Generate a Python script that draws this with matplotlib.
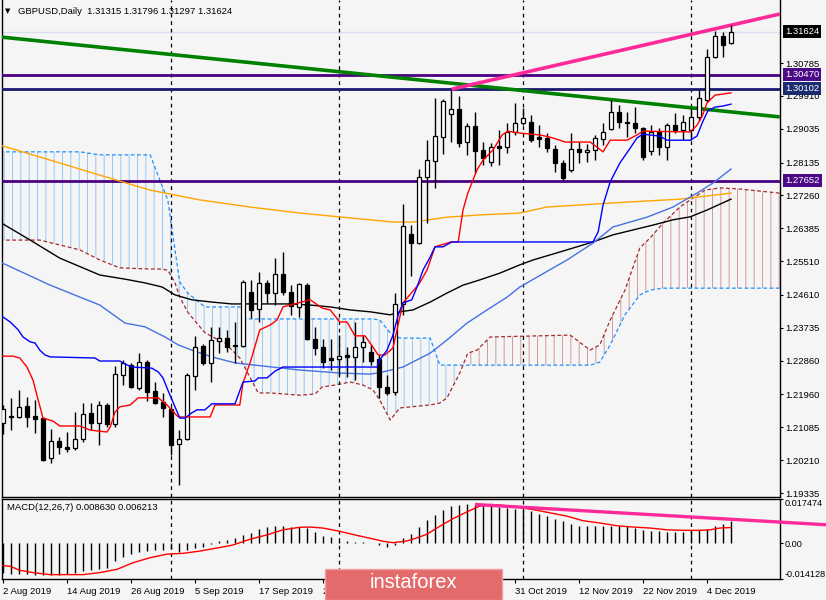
import numpy as np
import matplotlib.pyplot as plt
from matplotlib.patches import Rectangle
from matplotlib.transforms import blended_transform_factory

plt.rcParams['font.family'] = ['Liberation Sans', 'DejaVu Sans']
plt.rcParams['hatch.linewidth'] = 0.7

# daily candles, 2 Aug 2019 .. 9 Dec 2019
opens = [1.2120, 1.2138, 1.2136, 1.2165, 1.2139, 1.2133, 1.2027, 1.2072, 1.2056, 1.2053,
         1.2077, 1.2147, 1.2120, 1.2168, 1.2117, 1.2248, 1.2274, 1.2213, 1.2282, 1.2205,
         1.2176, 1.2157, 1.2064, 1.2077, 1.2245, 1.2325, 1.2280, 1.2338, 1.2346, 1.2328,
         1.2325, 1.2469, 1.2424, 1.2493, 1.2466, 1.2517, 1.2469, 1.2429, 1.2487, 1.2344,
         1.2322, 1.2293, 1.2290, 1.2301, 1.2296, 1.2322, 1.2309, 1.2290, 1.2216, 1.2202,
         1.2437, 1.2623, 1.2599, 1.2775, 1.2818, 1.2881, 1.2943, 1.2956, 1.2868, 1.2911,
         1.2847, 1.2815, 1.2858, 1.2855, 1.2895, 1.2919, 1.2921, 1.2881, 1.2879, 1.2850,
         1.2812, 1.2794, 1.2850, 1.2842, 1.2847, 1.2876, 1.2903, 1.2948, 1.2921, 1.2919,
         1.2905, 1.2844, 1.2895, 1.2855, 1.2913, 1.2900, 1.2900, 1.2935, 1.2980, 1.3095,
         1.3150, 1.31315]
highs = [1.2168, 1.2187, 1.2208, 1.2189, 1.2181, 1.2136, 1.2104, 1.2083, 1.2096, 1.2149,
         1.2173, 1.2173, 1.2179, 1.2173, 1.2272, 1.2288, 1.2280, 1.2306, 1.2288, 1.2229,
         1.2200, 1.2163, 1.2101, 1.2253, 1.2352, 1.2330, 1.2376, 1.2376, 1.2368, 1.2389,
         1.2501, 1.2501, 1.2522, 1.2501, 1.2559, 1.2575, 1.2487, 1.2493, 1.2493, 1.2376,
         1.2344, 1.2344, 1.2354, 1.2322, 1.2389, 1.2354, 1.2328, 1.2301, 1.2248, 1.2466,
         1.2703, 1.2647, 1.2796, 1.2873, 1.2985, 1.2983, 1.3007, 1.2991, 1.2919, 1.2948,
         1.2868, 1.2866, 1.2900, 1.2919, 1.2972, 1.2959, 1.2940, 1.2913, 1.2892, 1.2860,
         1.2820, 1.2892, 1.2868, 1.2863, 1.2887, 1.2919, 1.2980, 1.2967, 1.2948, 1.2961,
         1.2908, 1.2913, 1.2905, 1.2919, 1.2945, 1.2940, 1.2959, 1.3007, 1.3116, 1.3164,
         1.3161, 1.31796]
lows = [1.2091, 1.2101, 1.2133, 1.2109, 1.2093, 1.2019, 1.2013, 1.2037, 1.2043, 1.2048,
        1.2069, 1.2101, 1.2061, 1.2109, 1.2109, 1.2221, 1.2213, 1.2208, 1.2179, 1.2170,
        1.2136, 1.2035, 1.1955, 1.2075, 1.2208, 1.2274, 1.2229, 1.2306, 1.2309, 1.2280,
        1.2322, 1.2400, 1.2389, 1.2440, 1.2434, 1.2461, 1.2408, 1.2402, 1.2341, 1.2301,
        1.2266, 1.2261, 1.2248, 1.2242, 1.2234, 1.2282, 1.2274, 1.2187, 1.2194, 1.2194,
        1.2408, 1.2511, 1.2597, 1.2652, 1.2746, 1.2836, 1.2868, 1.2855, 1.2834, 1.2786,
        1.2807, 1.2804, 1.2807, 1.2839, 1.2887, 1.2913, 1.2868, 1.2855, 1.2842, 1.2788,
        1.2767, 1.2788, 1.2812, 1.2815, 1.2820, 1.2860, 1.2900, 1.2905, 1.2881, 1.2892,
        1.2820, 1.2834, 1.2834, 1.2820, 1.2892, 1.2873, 1.2873, 1.2924, 1.2975, 1.3092,
        1.3095, 1.31297]
closes = [1.2157, 1.2135, 1.2163, 1.2136, 1.2131, 1.2021, 1.2072, 1.2056, 1.2051, 1.2077,
          1.2144, 1.2120, 1.2168, 1.2117, 1.2250, 1.2280, 1.2216, 1.2282, 1.2202, 1.2173,
          1.2160, 1.2061, 1.2077, 1.2248, 1.2322, 1.2280, 1.2341, 1.2346, 1.2322, 1.2325,
          1.2495, 1.2421, 1.2493, 1.2466, 1.2517, 1.2469, 1.2431, 1.2490, 1.2344, 1.2320,
          1.2282, 1.2288, 1.2298, 1.2296, 1.2322, 1.2336, 1.2285, 1.2216, 1.2200, 1.2437,
          1.2644, 1.2599, 1.2775, 1.2820, 1.2884, 1.2977, 1.2956, 1.2866, 1.2911, 1.2844,
          1.2826, 1.2855, 1.2852, 1.2895, 1.2919, 1.2932, 1.2873, 1.2876, 1.2852, 1.2812,
          1.2772, 1.2850, 1.2842, 1.2847, 1.2879, 1.2895, 1.2948, 1.2921, 1.2919, 1.2905,
          1.2828, 1.2895, 1.2855, 1.2913, 1.2900, 1.2921, 1.2935, 1.2985, 1.3095, 1.3150,
          1.3126, 1.31624]

date_pos = [0, 8, 16, 24, 32, 40, 48, 56, 64, 72, 80, 88]
date_labels = ['2 Aug 2019', '14 Aug 2019', '26 Aug 2019', '5 Sep 2019', '17 Sep 2019',
               '27 Sep 2019', '9 Oct 2019', '21 Oct 2019', '31 Oct 2019', '12 Nov 2019',
               '22 Nov 2019', '4 Dec 2019']
month_starts = [21, 42, 65, 86]

price_ticks = [1.30785, 1.29910, 1.29035, 1.28135, 1.27260, 1.26385, 1.25510, 1.24610,
               1.23735, 1.22860, 1.21960, 1.21085, 1.20210, 1.19335]
level_high = 1.30470
level_mid = 1.30102
level_low = 1.27652
last_price = 1.31624

# ichimoku tenkan / kijun
tenkan_x = [-0.4, 1.25, 2.1, 3, 3.75, 4.4, 5, 6.25, 7.1, 9.6, 10.9, 13, 13.4, 14, 14.6, 15.9,
            16.9, 19.4, 20.5, 21.9, 25.9, 26.5, 29.6, 30, 31, 32.1, 33.4, 34.25, 35, 38.4,
            39.9, 40.9, 42.1, 43, 44, 45.25, 46.25, 46.9, 47.75, 48.75, 49.25, 50, 52, 53,
            54, 56, 56.9, 57.5, 58.1, 59.25, 60, 61.25, 62.4, 63.1, 64.6, 67.1, 68.4, 69.6,
            70.25, 73.4, 74.4, 75, 75.9, 78, 79.25, 80, 85.9, 86.75, 87.4, 88, 89, 90, 91]
tenkan_y = [1.2298, 1.2298, 1.2293, 1.2269, 1.2234, 1.2181, 1.2133, 1.2125, 1.2112, 1.2112,
            1.2101, 1.2096, 1.2109, 1.2149, 1.2163, 1.2168, 1.2187, 1.2187, 1.2168, 1.2136,
            1.2136, 1.2168, 1.2168, 1.2226, 1.2288, 1.2368, 1.2381, 1.2394, 1.2429, 1.2448,
            1.2426, 1.2421, 1.2389, 1.2389, 1.2352, 1.2352, 1.2322, 1.2301, 1.2301, 1.2320,
            1.2368, 1.2440, 1.2490, 1.2527, 1.2589, 1.2602, 1.2602, 1.2687, 1.2732, 1.2794,
            1.2820, 1.2847, 1.2887, 1.2897, 1.2892, 1.2887, 1.2881, 1.2873, 1.2868, 1.2868,
            1.2852, 1.2842, 1.2873, 1.2873, 1.2887, 1.2897, 1.2895, 1.2913, 1.2937, 1.2972,
            1.2993, 1.2996, 1.2999]
kijun_x = [-0.4, 0.9, 1.9, 2.5, 3.4, 4, 4.6, 5.25, 5.9, 11.5, 12.1, 14.6, 15.25, 16.1, 18.6,
           19.4, 20, 20.6, 21.5, 22.1, 22.75, 23.6, 24.25, 25.25, 26.1, 29, 30, 31.5, 31.9,
           33, 34, 35, 46.75, 47.1, 48, 48.75, 49.4, 50, 51.1, 51.75, 52.5, 53.4, 54, 55,
           56.1, 73.75, 74.4, 75, 75.9, 77.1, 78.4, 79.25, 80, 82.1, 83, 85.9, 86.75, 87.4,
           88.1, 89, 90, 91]
kijun_y = [1.2408, 1.2389, 1.2368, 1.2349, 1.2336, 1.2333, 1.2314, 1.2301, 1.2296, 1.2293,
           1.2285, 1.2285, 1.2277, 1.2269, 1.2266, 1.2256, 1.2240, 1.2208, 1.2163, 1.2133,
           1.2133, 1.2147, 1.2155, 1.2155, 1.2171, 1.2171, 1.2229, 1.2232, 1.2240, 1.2240,
           1.2258, 1.2269, 1.2269, 1.2288, 1.2314, 1.2354, 1.2408, 1.2440, 1.2448, 1.2482,
           1.2527, 1.2562, 1.2589, 1.2589, 1.2602, 1.2602, 1.2629, 1.2700, 1.2762, 1.2812,
           1.2852, 1.2879, 1.2889, 1.2884, 1.2873, 1.2873, 1.2884, 1.2919, 1.2951, 1.2961,
           1.2964, 1.2969]

# ichimoku cloud (span A / span B, shifted forward)
cloud_x = [-0.4, 4.6, 9.6, 12.1, 14.6, 18.4, 19.6, 20.6, 21.5, 22.1, 23.1, 24.1, 25.25, 26.5,
           27.75, 29.6, 30.4, 31.9, 33.4, 37.1, 39, 39.9, 41.5, 43.4, 45, 46.25, 47.1, 48.4,
           49.6, 53.4, 54.6, 55.5, 57.1, 58.1, 59.25, 60.9, 70.9, 73.4, 74.6, 75.9, 77.75,
           79.6, 80.9, 82.5, 84.6, 85.9, 87.75, 89.6, 92.1, 97.1]
span_a = [1.2842, 1.2842, 1.2842, 1.2834, 1.2834, 1.2834, 1.2767, 1.2714, 1.2581, 1.2495,
          1.2466, 1.2448, 1.2429, 1.2429, 1.2429, 1.2429, 1.2397, 1.2397, 1.2397, 1.2397,
          1.2397, 1.2397, 1.2397, 1.2397, 1.2397, 1.2397, 1.2394, 1.2360, 1.2346, 1.2346,
          1.2274, 1.2274, 1.2274, 1.2274, 1.2274, 1.2274, 1.2274, 1.2274, 1.2282, 1.2328,
          1.2408, 1.2461, 1.2474, 1.2479, 1.2479, 1.2479, 1.2479, 1.2479, 1.2479, 1.2479]
span_b = [1.2607, 1.2607, 1.2581, 1.2554, 1.2533, 1.2530, 1.2530, 1.2527, 1.2493, 1.2455,
          1.2415, 1.2389, 1.2360, 1.2346, 1.2333, 1.2293, 1.2261, 1.2200, 1.2200, 1.2194,
          1.2197, 1.2216, 1.2221, 1.2229, 1.2221, 1.2208, 1.2181, 1.2128, 1.2160, 1.2168,
          1.2173, 1.2187, 1.2253, 1.2306, 1.2314, 1.2349, 1.2354, 1.2314, 1.2328, 1.2394,
          1.2474, 1.2586, 1.2613, 1.2652, 1.2695, 1.2714, 1.2740, 1.2746, 1.2743, 1.2732]

# moving averages
ma_black_x = [-0.4, 3.4, 7.1, 12.1, 15.25, 17.75, 19.9, 21.5, 23.6, 26.1, 28.6, 35.9, 38.4,
              40.9, 43.4, 45.9, 48.4, 49.6, 51.25, 53.4, 55.5, 57.5, 59.6, 62.1, 64.6, 66.25,
              70.5, 73.75, 76.25, 78.75, 81.25, 83.75, 85.9, 88, 91]
ma_black_y = [1.2655, 1.2607, 1.2559, 1.2514, 1.2503, 1.2493, 1.2482, 1.2461, 1.2448, 1.2442,
              1.2437, 1.2437, 1.2434, 1.2429, 1.2421, 1.2416, 1.2408, 1.2416, 1.2421, 1.2442,
              1.2466, 1.2487, 1.2501, 1.2519, 1.2541, 1.2554, 1.2581, 1.2602, 1.2621, 1.2634,
              1.2647, 1.2661, 1.2669, 1.2687, 1.2716]
ma_orange_x = [-0.4, 5.9, 12.1, 18.4, 24.6, 30.9, 37.1, 43.4, 48.75, 51.25, 55.5, 59.6, 64.6,
               68, 76.25, 84.6, 91]
ma_orange_y = [1.2860, 1.2820, 1.2780, 1.2740, 1.2714, 1.2695, 1.2679, 1.2666, 1.2655, 1.2655,
               1.2668, 1.2674, 1.2679, 1.2695, 1.2706, 1.2716, 1.2732]
ma_blue_x = [-0.4, 5.9, 12.1, 15.25, 17.75, 20.25, 21.9, 23.6, 26.1, 29, 31.5, 37.1, 42.1,
             45.9, 47.5, 50, 53.4, 55.5, 58, 60.5, 63, 64.6, 70.5, 73.75, 76.25, 80.5, 83.75,
             86.75, 88.75, 91]
ma_blue_y = [1.2549, 1.2487, 1.2434, 1.2386, 1.2376, 1.2349, 1.2328, 1.2314, 1.2296, 1.2280,
             1.2274, 1.2261, 1.2253, 1.2250, 1.2256, 1.2269, 1.2306, 1.2341, 1.2386, 1.2421,
             1.2455, 1.2482, 1.2554, 1.2599, 1.2642, 1.2668, 1.2695, 1.2732, 1.2759, 1.2796]

# trend lines (start / end)
green_x = [-0.4, 97.1]
green_y = [1.3148, 1.2935]
pink_x = [56.1, 97.1]
pink_y = [1.3009, 1.3209]

# MACD(12,26,7)
macd_hist = [-0.0116, -0.0120, -0.0123, -0.0123, -0.0124, -0.0127, -0.0127, -0.0124, -0.0120, -0.0116,
             -0.0111, -0.0107, -0.0103, -0.0097, -0.0071, -0.0053, -0.0044, -0.0033, -0.0031, -0.0027,
             -0.0027, -0.0023, -0.0036, -0.0027, -0.0017, -0.0013, -0.0003, 0.0009, 0.0013, 0.0020,
             0.0033, 0.0040, 0.0056, 0.0063, 0.0067, 0.0067, 0.0064, 0.0064, 0.0060, 0.0044,
             0.0027, 0.0023, 0.0009, 0.0009, 0.0004, 0.0003, 0.0001, -0.0007, -0.0013, -0.0007,
             0.0020, 0.0036, 0.0066, 0.0090, 0.0111, 0.0133, 0.0147, 0.0153, 0.0156, 0.0153,
             0.0151, 0.0147, 0.0143, 0.0140, 0.0137, 0.0133, 0.0127, 0.0116, 0.0107, 0.0097,
             0.0087, 0.0077, 0.0069, 0.0069, 0.0067, 0.0067, 0.0069, 0.0067, 0.0067, 0.0060,
             0.0053, 0.0049, 0.0047, 0.0044, 0.0043, 0.0043, 0.0051, 0.0051, 0.0056, 0.0069,
             0.0076, 0.0086]
signal_x = [-0.4, 0.9, 2.1, 3.75, 5.9, 10, 12.1, 14.25, 16.25, 18.4, 20.5, 22.5, 24.6, 26.75,
            28.75, 30.9, 33, 35, 37.1, 38.4, 40, 42.1, 44.25, 46.25, 47.5, 48.75, 50.5, 52.1,
            53, 54.6, 56.25, 58, 59.6, 60.9, 62.1, 64.25, 66.25, 68.4, 70.5, 72.5, 74.6, 76.75,
            78.75, 80.9, 83, 85, 87.1, 88.4, 89.6, 91]
signal_y = [-0.0087, -0.0091, -0.0107, -0.0116, -0.0124, -0.0124, -0.0116, -0.0103, -0.0077,
            -0.0057, -0.0043, -0.0040, -0.0031, -0.0019, -0.0007, 0.0016, 0.0033, 0.0053, 0.0063,
            0.0064, 0.0060, 0.0047, 0.0031, 0.0017, 0.0008, 0.0002, 0.0009, 0.0025, 0.0036,
            0.0067, 0.0097, 0.0124, 0.0147, 0.0153, 0.0151, 0.0143, 0.0133, 0.0120, 0.0107,
            0.0089, 0.0080, 0.0069, 0.0064, 0.0060, 0.0053, 0.0051, 0.0051, 0.0053, 0.0060,
            0.0062]
macd_pink_x = [59, 102.9]
macd_pink_y = [0.0153, 0.0073]
macd_max = 0.017474
macd_min = -0.014128

W, H = 826, 600
bg = '#f5f5f5'
fig = plt.figure(figsize=(W / 100, H / 100), dpi=100, facecolor=bg)
ax = fig.add_axes([2 / W, (H - 497) / H, 778 / W, 497 / H], facecolor=bg)
ax2 = fig.add_axes([2 / W, (H - 579) / H, 778 / W, 80 / H], facecolor=bg)

idx = np.arange(len(opens))
o = np.array(opens)
c = np.array(closes)

ax.set_xlim(-0.125, 97.125)
ax.set_ylim(1.19229, 1.32463)

# cloud
cx = np.array(cloud_x)
ca = np.array(span_a)
cb = np.array(span_b)
ax.fill_between(cx, ca, cb, where=ca >= cb, interpolate=True, facecolor='none',
                edgecolor=(0.12, 0.56, 1.0, 0.45), hatch='||', lw=0, zorder=1)
ax.fill_between(cx, ca, cb, where=ca < cb, interpolate=True, facecolor='none',
                edgecolor=(0.65, 0.16, 0.16, 0.45), hatch='||', lw=0, zorder=1)
ax.plot(cx, ca, color='#1e90ff', lw=0.9, ls=(0, (3, 2)), zorder=2)
ax.plot(cx, cb, color='#a52a2a', lw=0.9, ls=(0, (3, 2)), zorder=2)

# horizontal levels
ax.axhline(last_price, color='#dcdcef', lw=1, zorder=1)
ax.axhline(level_high, color='#4b0082', lw=2, zorder=3)
ax.axhline(level_mid, color='#191970', lw=2, zorder=3)
ax.axhline(level_low, color='#4b0082', lw=2, zorder=3)

# moving averages
ax.plot(ma_black_x, ma_black_y, color='black', lw=1, zorder=3)
ax.plot(ma_orange_x, ma_orange_y, color='orange', lw=1, zorder=3)
ax.plot(ma_blue_x, ma_blue_y, color='#4472e0', lw=1, zorder=3)

# trend lines
ax.plot(green_x, green_y, color='#008000', lw=2.6, zorder=3, solid_capstyle='butt')
ax.plot(pink_x, pink_y, color='#ff2a9a', lw=2.6, zorder=3, solid_capstyle='butt')

# month separators
for m in month_starts:
    ax.axvline(m, color='black', lw=0.9, ls=(0, (3, 3)), zorder=2)
    ax2.axvline(m, color='black', lw=0.9, ls=(0, (3, 3)), zorder=2)

# candles
ax.vlines(idx, lows, highs, color='black', lw=1, zorder=5)
body_lo = np.minimum(o, c)
body_h = np.maximum(np.abs(c - o), 0.00008)
ax.bar(idx, body_h, bottom=body_lo, width=0.56,
       color=['white' if cc >= oo else 'black' for oo, cc in zip(o, c)],
       edgecolor='black', lw=0.9, zorder=6)

# ichimoku lines over candles
ax.plot(tenkan_x, tenkan_y, color='red', lw=1, zorder=7)
ax.plot(kijun_x, kijun_y, color='blue', lw=1, zorder=7)

# price axis
ax.yaxis.tick_right()
ax.set_yticks(price_ticks)
ax.set_yticklabels([f'{v:.5f}' for v in price_ticks])
ax.tick_params(axis='y', length=2.5, width=0.8, labelsize=6.8, pad=1.5)
ax.set_xticks([])
ax.spines['top'].set_visible(False)
for s in ['left', 'right', 'bottom']:
    ax.spines[s].set_linewidth(1)

trans = blended_transform_factory(ax.transAxes, ax.transData)
for val, fc in [(last_price, 'black'), (level_high, '#4b0a86'), (level_mid, '#1c2a70'),
                (level_low, '#4b0a86')]:
    ax.text(1 + 5 / 778, val, f'{val:.5f}', transform=trans, ha='left', va='center',
            fontsize=6.8, color='white', zorder=10, clip_on=False,
            bbox=dict(boxstyle='square,pad=0.22', fc=fc, ec='none'))

# MACD pane
ax2.set_xlim(-0.125, 97.125)
ax2.set_ylim(macd_min, macd_max)
ax2.vlines(idx, 0, macd_hist, color='black', lw=1, zorder=3)
ax2.plot(signal_x, signal_y, color='red', lw=1, zorder=4)
ax2.plot(macd_pink_x, macd_pink_y, color='#ff2a9a', lw=2.4, zorder=5, clip_on=False,
         solid_capstyle='butt')
ax2.yaxis.tick_right()
ax2.set_yticks([macd_max, 0.0, macd_min])
ax2.set_yticklabels(['0.017474', '0.00', '-0.014128'])
ax2.tick_params(axis='y', length=2, width=0.8, labelsize=6.6, pad=1)
labs = ax2.get_yticklabels()
labs[0].set_va('top')
labs[2].set_va('bottom')
ax2.set_xticks(date_pos)
ax2.set_xticklabels(date_labels, ha='left')
ax2.tick_params(axis='x', length=3, width=0.8, labelsize=6.8, pad=3)
for s in ax2.spines.values():
    s.set_linewidth(1)

# header texts
fig.text(5 / W, 1 - 11 / H, '\u25bc', fontsize=5, va='center', family='DejaVu Sans')
fig.text(18 / W, 1 - 11 / H, 'GBPUSD,Daily  1.31315 1.31796 1.31297 1.31624',
         fontsize=6.8, va='center')
fig.text(7 / W, 1 - 507 / H, 'MACD(12,26,7) 0.008630 0.006213', fontsize=6.8, va='center')

# watermark
fig.add_artist(Rectangle((325 / W, 0), 177 / W, 31 / H, transform=fig.transFigure,
                         fc='#e36b6b', ec='#f0a0a0', lw=1, zorder=5))
fig.text(413 / W, 1 - 583 / H, 'instaforex', fontsize=14.5, color='white',
         ha='center', va='center', zorder=6)

fig.savefig('out.png', dpi=100, facecolor=bg)
